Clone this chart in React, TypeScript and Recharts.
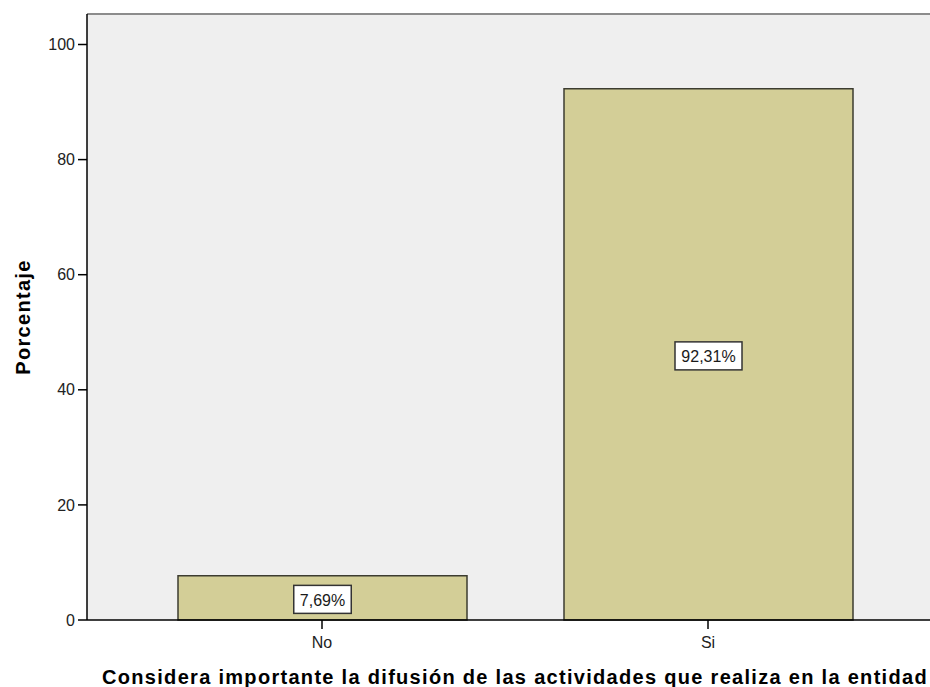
import { BarChart, Bar, XAxis, YAxis, CartesianGrid, LabelList, ReferenceLine } from "recharts";

const CATEGORIES = ["No", "Si"];
const PERCENTS = [7.69, 92.31];
const Y_TICKS = [0, 20, 40, 60, 80, 100];
const Y_MAX = 105.3;

const X_TITLE = "Considera importante la difusión de las actividades que realiza en la entidad";
const Y_TITLE = "Porcentaje";

const data = CATEGORIES.map((c, i) => ({ cat: c, pct: PERCENTS[i] }));

const FONT = "'Liberation Sans', Arial, sans-serif";

function BoxLabel(props: any) {
  const { x, y, width, height, value } = props;
  const text = value.toFixed(2).replace(".", ",") + "%";
  const cx = x + width / 2;
  const cy = y + height / 2 + 1.5;
  const w = text.length * 9.5 + 10;
  const h = 28;
  return (
    <g>
      <rect x={cx - w / 2} y={cy - h / 2} width={w} height={h} fill="#ffffff" stroke="#333333" strokeWidth={1.5} />
      <text x={cx} y={cy + 1} textAnchor="middle" dominantBaseline="central" fontSize={16} fontFamily={FONT} fill="#1a1a1a">
        {text}
      </text>
    </g>
  );
}

export default function App() {
  return (
    <div style={{ position: "absolute", left: 0, top: 0, width: 930, height: 687, overflow: "hidden", background: "#fff" }}>
      <BarChart
        width={950}
        height={687}
        data={data}
        margin={{ top: 14, right: 7, bottom: 0, left: 0 }}
        style={{ fontFamily: FONT }}
      >
        <CartesianGrid fill="#efefef" horizontal={false} vertical={false} />
        <ReferenceLine y={Y_MAX} stroke="#8c8c8c" strokeWidth={2} />
        <XAxis
          dataKey="cat"
          padding={{ left: 42, right: 42 }}
          height={67}
          tickSize={9}
          tickMargin={8}
          axisLine={{ stroke: "#000", strokeWidth: 1.5 }}
          tickLine={{ stroke: "#000", strokeWidth: 1.5 }}
          tick={{ fontSize: 16, fill: "#222" }}
          label={{ value: X_TITLE, position: "insideBottom", offset: 3, fontSize: 20, fontWeight: "bold", fill: "#000", style: { letterSpacing: 1.3 } }}
        />
        <YAxis
          width={87}
          domain={[0, Y_MAX]}
          ticks={Y_TICKS}
          tickSize={9}
          tickMargin={3}
          axisLine={{ stroke: "#000", strokeWidth: 1.5 }}
          tickLine={{ stroke: "#000", strokeWidth: 1.5 }}
          tick={{ fontSize: 16, fill: "#222" }}
          label={{ value: Y_TITLE, angle: -90, position: "insideLeft", offset: 23, fontSize: 20, fontWeight: "bold", fill: "#000", style: { textAnchor: "middle", letterSpacing: 1.3 } }}
        />
        <Bar dataKey="pct" barSize={289} fill="#d3ce97" stroke="#3c3c30" strokeWidth={1.5} isAnimationActive={false}>
          <LabelList dataKey="pct" content={<BoxLabel />} />
        </Bar>
      </BarChart>
    </div>
  );
}
